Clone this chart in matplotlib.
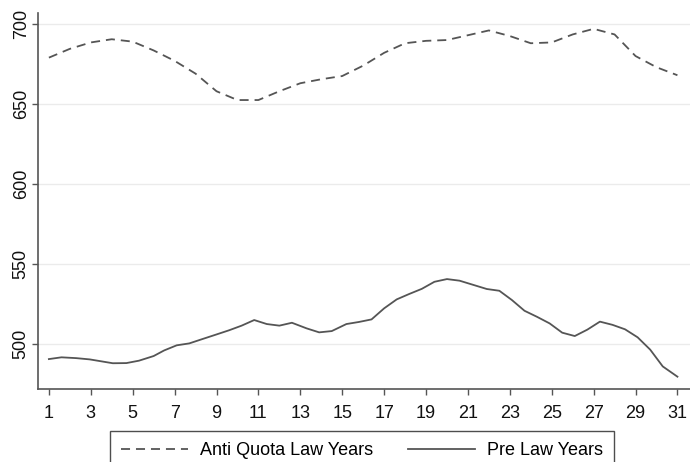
import matplotlib
matplotlib.use("Agg")
import matplotlib.pyplot as plt

plt.rcParams["font.family"] = ["Liberation Sans", "DejaVu Sans"]

# anti quota law years, one value per day
days = list(range(1, 32))
anti_quota = [679, 684.5, 688.5, 690.5, 689, 683.5, 677, 669, 658, 652.5,
              652.5, 658, 663, 665.5, 667.5, 674, 682, 688, 689.5, 690,
              693, 696, 692.5, 688, 688.5, 693.5, 697, 693.5, 680, 673, 668]

# pre law years
pre_x = [1, 1.6, 2.3, 2.95, 3.5, 4.05, 4.7, 5.3, 6.0, 6.5,
         7.1, 7.7, 8.3, 9.0, 9.6, 10.2, 10.8, 11.4, 12.0, 12.6,
         13.3, 13.9, 14.5, 15.2, 15.8, 16.4, 17.0, 17.6, 18.2, 18.8,
         19.4, 20.0, 20.6, 21.2, 21.9, 22.5, 23.1, 23.7, 24.3, 24.9,
         25.5, 26.1, 26.7, 27.3, 27.9, 28.5, 29.1, 29.7, 30.3, 31.0]
pre_law = [490.6, 491.7, 491.2, 490.4, 489.2, 488.0, 488.1, 489.6, 492.5, 496,
           499.2, 500.4, 503, 506, 508.6, 511.5, 515, 512.5, 511.5, 513.3,
           509.8, 507.3, 508.1, 512.5, 513.8, 515.4, 522.3, 527.9, 531.3, 534.5,
           538.9, 540.6, 539.6, 537.2, 534.4, 533.3, 527.5, 520.8, 517, 512.9,
           507.1, 505, 509, 514, 512, 509.2, 504.2, 496.5, 486, 479.6]

xticks = list(range(1, 32, 2))
yticks = [500, 550, 600, 650, 700]

line_col = "#555555"

fig = plt.figure(figsize=(6.9, 4.62), dpi=100)
ax = fig.add_axes([38 / 690, 1 - 389 / 462, 1 - 38 / 690, (389 - 13) / 462])

ax.plot(days, anti_quota, color=line_col, lw=1.3, ls=(0, (5, 3.3)),
        label="Anti Quota Law Years")
ax.plot(pre_x, pre_law, color=line_col, lw=1.3, label="Pre Law Years")

ax.set_xlim(0.48, 31.6)
ax.set_ylim(471.9, 706.9)
ax.set_xticks(xticks)
ax.set_yticks(yticks)
ax.grid(axis="y", color="#ebebeb", lw=1)
ax.set_axisbelow(True)

for s in ["top", "right"]:
    ax.spines[s].set_visible(False)
for s in ["left", "bottom"]:
    ax.spines[s].set_color("#555555")
    ax.spines[s].set_linewidth(1.2)

ax.tick_params(axis="both", length=4.5, width=1, color="#555555",
               labelsize=13, labelcolor="#111111")
ax.tick_params(axis="x", pad=7)
ax.tick_params(axis="y", pad=1.5)
for lab in ax.get_yticklabels():
    lab.set_rotation(90)
    lab.set_va("center")

leg = fig.legend(loc="upper left", bbox_to_anchor=(110 / 690, 1 - 431 / 462),
                 ncol=2, fontsize=13, frameon=True, fancybox=False,
                 handlelength=3.7, handletextpad=0.7, columnspacing=1.9,
                 borderpad=0.6, borderaxespad=0)
leg.get_frame().set_edgecolor("#222222")
leg.get_frame().set_linewidth(1.0)

fig.savefig("out.png", dpi=100)
